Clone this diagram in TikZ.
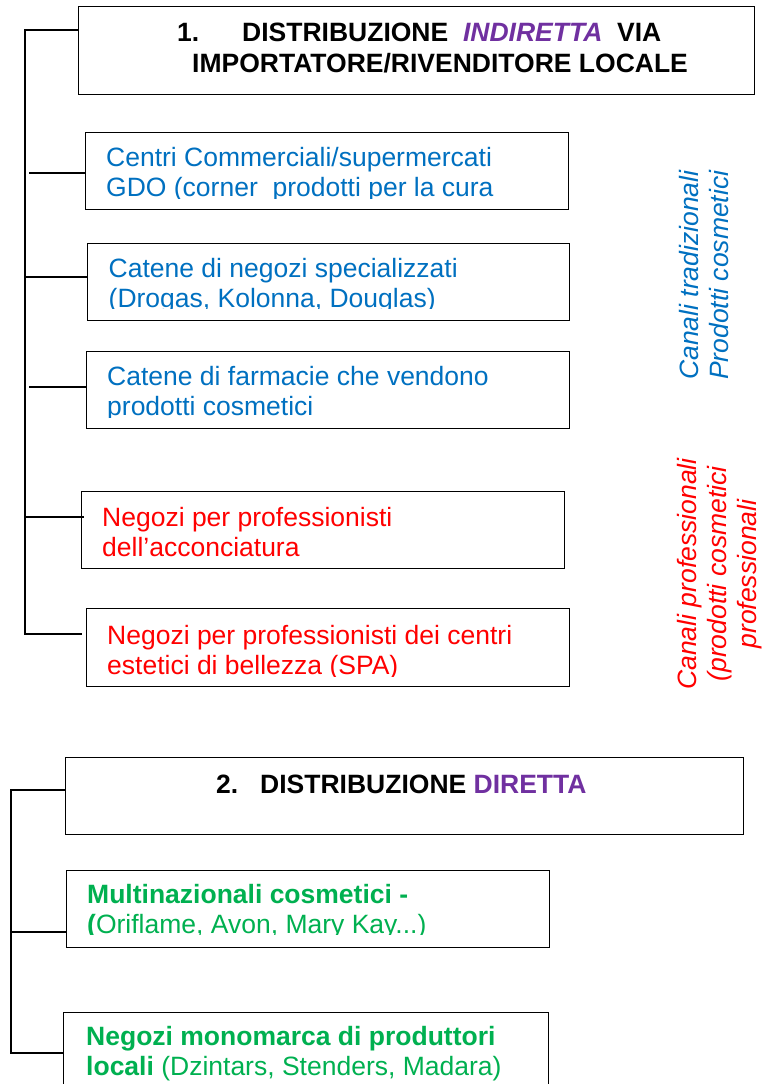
\documentclass[tikz,border=0pt]{standalone}
\usepackage{fontspec}
\setmainfont{Liberation Sans}
\definecolor{tradblue}{HTML}{0070C0}
\definecolor{profred}{HTML}{FF0000}
\definecolor{dirgreen}{HTML}{00B050}
\definecolor{violet}{HTML}{7030A0}
\begin{document}
\begin{tikzpicture}[x=1pt,y=-1pt,
    box/.style={draw,line width=1.4pt,anchor=north west,inner sep=0pt},
    txt/.style={anchor=base west,inner sep=0pt,align=left,font=\fontsize{26.5}{30}\selectfont},
    head/.style={txt,font=\fontsize{26.5}{31}\selectfont\bfseries},
    side/.style={txt,rotate=90,font=\fontsize{26.5}{30}\selectfont\itshape},
    link/.style={line width=1.4pt}]

    \path[use as bounding box,clip] (0,0) rectangle (763,1084);

    % 1. indiretta
    \node (ind) at (78,6) [box,minimum width=676pt,minimum height=88pt] {};
    \node (tind) at (177,72) [head] {\makebox[65pt][l]{1.}DISTRIBUZIONE\ \ \textcolor{violet}{\itshape INDIRETTA}\ \ VIA\\
        \hspace*{15pt}IMPORTATORE/RIVENDITORE LOCALE};

    \node (gdo) at (85,132) [box,minimum width=483pt,minimum height=77pt] {};
    \node (neg) at (86.5,243) [box,minimum width=482.5pt,minimum height=77pt] {};
    \node (far) at (85.5,351) [box,minimum width=483pt,minimum height=77pt] {};
    \node (acc) at (81,491) [box,minimum width=483pt,minimum height=77pt] {};
    \node (spa) at (85.5,608) [box,minimum width=483pt,minimum height=78pt] {};

    \begin{scope}
        \clip (gdo.north west) rectangle (gdo.east |- 0,198.3);
        \node (tgdo) at (106,196.7) [txt,text=tradblue] {Centri Commerciali/supermercati\\GDO (corner\ \ prodotti per la cura};
    \end{scope}
    \begin{scope}
        \clip (neg.north west) rectangle (neg.east |- 0,308.5);
        \node (tneg) at (108.5,307) [txt,text=tradblue] {Catene di negozi specializzati\\(Drogas, Kolonna, Douglas)};
    \end{scope}
    \begin{scope}
        \clip (far.north west) rectangle (far.east |- 0,417);
        \node (tfar) at (107,415.5) [txt,text=tradblue] {Catene di farmacie che vendono\\prodotti cosmetici};
    \end{scope}
    \node (tacc) at (102,556) [txt,text=profred] {Negozi per professionisti\\dell'acconciatura};
    \begin{scope}
        \clip (spa.north west) rectangle (spa.east |- 0,676);
        \node (tspa) at (107,674.5) [txt,text=profred] {Negozi per professionisti dei centri\\estetici di bellezza (SPA)};
    \end{scope}

    \node (trad) at (728,380) [side,text=tradblue] {Canali tradizionali\\Prodotti cosmetici};
    \node (prof) at (756,574) [side,anchor=base,align=center,text=profred] {Canali professionali\\(prodotti cosmetici\\professionali};

    \coordinate (i0) at (25,30);
    \coordinate (i1) at (29,173);
    \coordinate (i2) at (25,277);
    \coordinate (i3) at (29,387);
    \coordinate (i4) at (25,517);
    \coordinate (i5) at (25,634);
    \draw[link] (ind.west |- i0) -- (i0) -- (i5) -- ([xshift=-4pt]spa.west |- i5);
    \draw[link] (i1) -- (gdo.west |- i1);
    \draw[link] (i2) -- (neg.west |- i2);
    \draw[link] (i3) -- (far.west |- i3);
    \draw[link] (i4) -- ([xshift=3pt]acc.west |- i4);

    % 2. diretta
    \node (dir) at (65,757) [box,minimum width=678pt,minimum height=77pt] {};
    \node (tdir) at (216,793) [head] {\makebox[44pt][l]{2.}DISTRIBUZIONE \textcolor{violet}{DIRETTA}};

    \node (mul) at (66,870) [box,minimum width=483pt,minimum height=77pt] {};
    \node (mon) at (63,1012) [box,minimum width=485pt,minimum height=100pt] {};

    \begin{scope}
        \clip (mul.north west) rectangle (mul.east |- 0,934.5);
        \node (tmul) at (87,933) [txt,text=dirgreen] {\textbf{Multinazionali cosmetici -}\\\textbf{(}Oriflame, Avon, Mary Kay...)};
    \end{scope}
    \node (tmon) at (86,1075) [txt,text=dirgreen] {\textbf{Negozi monomarca di produttori}\\\textbf{locali} (Dzintars, Stenders, Madara)};

    \coordinate (d0) at (11,790);
    \coordinate (d1) at (11,932);
    \coordinate (d2) at (11,1053);
    \draw[link] (dir.west |- d0) -- (d0) -- (d2) -- (mon.west |- d2);
    \draw[link] (d1) -- (mul.west |- d1);
\end{tikzpicture}
\end{document}
